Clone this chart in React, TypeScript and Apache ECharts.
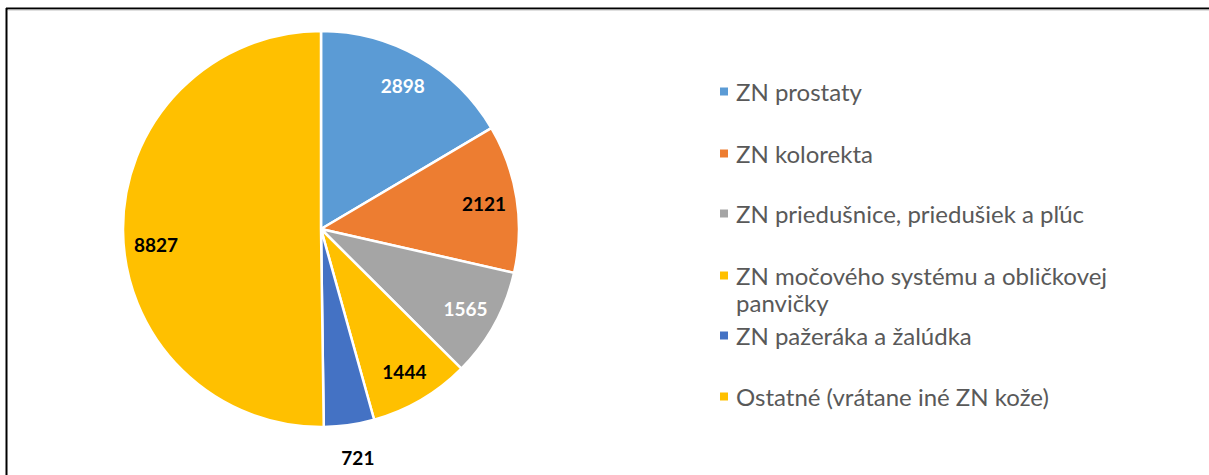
import React, { useEffect, useRef } from "react";
import * as echarts from "echarts";

const categories = [
  "ZN prostaty",
  "ZN kolorekta",
  "ZN priedušnice, priedušiek a pľúc",
  "ZN močového systému a obličkovej panvičky",
  "ZN pažeráka a žalúdka",
  "Ostatné (vrátane iné ZN kože)",
];
const values = [2898, 2121, 1565, 1444, 721, 8827];
const sliceColors = ["#5B9BD5", "#ED7D31", "#A5A5A5", "#FFC000", "#4472C4", "#FFC000"];
const labelColors = ["#FFFFFF", "#000000", "#FFFFFF", "#000000", "#000000", "#000000"];
const outsideLabel = [false, false, false, false, true, false];
const legendTops = [78, 140, 200, 235, 322, 383];

export default function App() {
  const ref = useRef<HTMLDivElement>(null);
  useEffect(() => {
    if (!ref.current) return;
    const chart = echarts.init(ref.current, undefined, { renderer: "svg" });
    const cx = 321;
    const cy = 229;
    const r = 199;
    const labelFont = {
      fontFamily: "Lato",
      fontWeight: "bold" as const,
      fontSize: 19,
    };
    const baseData = categories.map((name, i) => ({
      name,
      value: values[i],
      itemStyle: { color: sliceColors[i] },
    }));
    const legends = categories.map((name, i) => ({
      orient: "vertical" as const,
      left: 718,
      top: legendTops[i],
      padding: 0,
      data: [name],
      icon: "rect",
      itemWidth: 10,
      itemHeight: 10,
      selectedMode: false,
      formatter: (n: string) =>
        i === 3 ? "\n" + n.replace(" panvičky", "\npanvičky") : n,
      textStyle: {
        fontFamily: "Lato",
        fontSize: 24,
        color: "#595959",
        lineHeight: 27,
        padding: [0, 0, 0, 2],
      },
    }));
    chart.setOption({
      animation: false,
      backgroundColor: "#FFFFFF",
      legend: legends,
      graphic: [
        {
          type: "line",
          shape: { x1: 6.5, y1: 8, x2: 6.5, y2: 475 },
          style: { stroke: "#000000", lineWidth: 2 },
        },
        {
          type: "line",
          shape: { x1: 6, y1: 8.5, x2: 1209, y2: 8.5 },
          style: { stroke: "#000000", lineWidth: 2 },
        },
        {
          type: "line",
          shape: { x1: 8, y1: 10, x2: 1209, y2: 10 },
          style: { stroke: "#BFBFBF", lineWidth: 1 },
        },
      ],
      series: [
        {
          type: "pie",
          center: [cx, cy],
          radius: r - 1,
          startAngle: 90,
          clockwise: true,
          avoidLabelOverlap: false,
          label: { show: false },
          labelLine: { show: false },
          itemStyle: { borderColor: "#FFFFFF", borderWidth: 2.5 },
          emphasis: { disabled: true },
          data: baseData,
        },
        {
          type: "pie",
          center: [cx, cy],
          radius: [125, r],
          startAngle: 90,
          clockwise: true,
          silent: true,
          avoidLabelOverlap: false,
          labelLine: { show: false },
          itemStyle: { color: "transparent", borderWidth: 0 },
          emphasis: { disabled: true },
          labelLayout: (p: any) => (p.dataIndex === 5 ? { dy: 14 } : {}),
          data: categories.map((name, i) => ({
            name,
            value: values[i],
            itemStyle: { color: "transparent" },
            label: {
              show: !outsideLabel[i],
              position: "inside",
              formatter: "{c}",
              color: labelColors[i],
              ...labelFont,
            },
          })),
        },
        {
          type: "pie",
          center: [cx, cy],
          radius: [216, 240],
          startAngle: 90,
          clockwise: true,
          silent: true,
          avoidLabelOverlap: false,
          labelLine: { show: false },
          itemStyle: { color: "transparent", borderWidth: 0 },
          emphasis: { disabled: true },
          labelLayout: (p: any) => (p.dataIndex === 4 ? { dx: 4 } : {}),
          data: categories.map((name, i) => ({
            name,
            value: values[i],
            itemStyle: { color: "transparent" },
            label: {
              show: outsideLabel[i],
              position: "inside",
              formatter: "{c}",
              color: labelColors[i],
              ...labelFont,
            },
          })),
        },
      ],
    });
    return () => chart.dispose();
  }, []);
  return (
    <div
      ref={ref}
      style={{ position: "fixed", left: 0, top: 0, width: 1209, height: 475 }}
    />
  );
}
